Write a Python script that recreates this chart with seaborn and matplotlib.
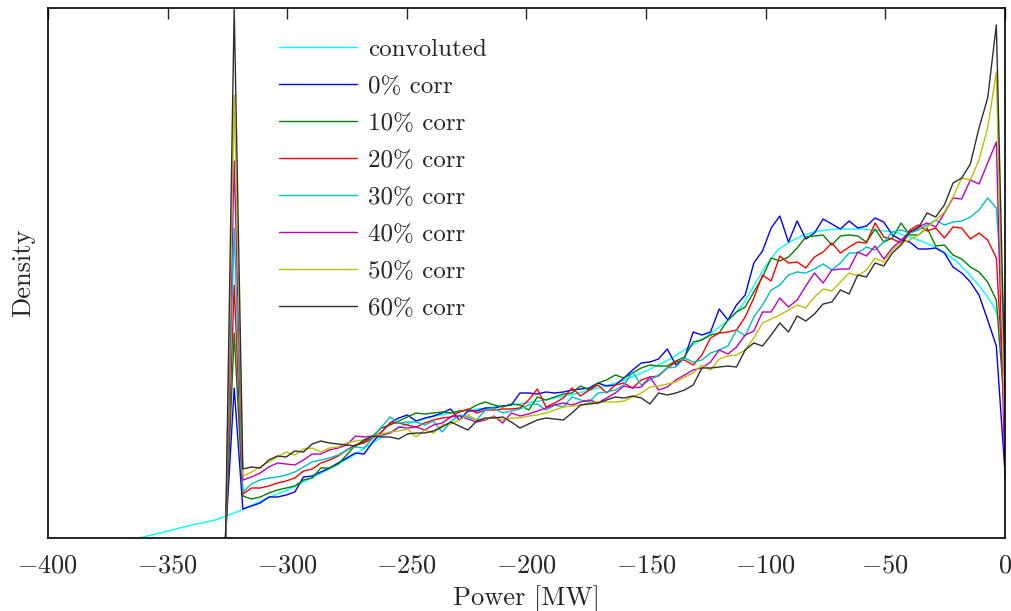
import numpy as np
import pandas as pd
import matplotlib
matplotlib.use("Agg")
import matplotlib.pyplot as plt
import seaborn as sns

# bin centres of the sampled histograms (MW)
power = np.linspace(-325.8, 0, 91)

# densities (arbitrary units)
corr_0 = [0, 150, 29, 32, 35, 41, 41, 43, 46, 61, 62, 66, 70, 75, 80, 85, 84, 96, 106, 115,
          120, 123, 117, 120, 122, 125, 129, 118, 127, 127, 130, 130, 132, 133, 145, 145, 144, 146, 145, 146,
          148, 149, 150, 155, 152, 153, 160, 168, 175, 176, 179, 189, 173, 180, 206,
          203, 206, 229, 218, 233, 243, 275, 287, 310, 322, 296, 317, 299, 305, 319, 314, 309, 317, 310, 312,
          320, 316, 303, 298, 296, 289, 289, 290, 285, 271, 265, 256, 243, 218, 192, 65]
corr_10 = [0, 205, 42, 39, 41, 45, 48, 50, 52, 58, 60, 70, 70, 74, 83, 93, 96, 102, 110, 113,
           117, 121, 125, 124, 125, 126, 125, 127, 128, 133, 136, 133, 131, 134, 133, 128, 141, 138, 141, 144,
           145, 152, 148, 155, 158, 163, 160, 165, 170, 173, 172, 172, 177, 181, 196,
           198, 203, 205, 218, 226, 231, 246, 261, 280, 277, 281, 290, 301, 302, 303, 293, 302, 303, 302, 296,
           309, 296, 300, 315, 303, 303, 310, 292, 293, 283, 279, 271, 266, 256, 238, 125]
corr_20 = [0, 253, 44, 50, 50, 52, 55, 57, 60, 67, 69, 75, 78, 82, 88, 93, 95, 100, 106, 115,
           115, 113, 111, 115, 118, 120, 121, 126, 129, 125, 128, 128, 129, 129, 130, 138, 149, 131, 135, 140,
           150, 142, 148, 153, 145, 153, 155, 150, 158, 161, 162, 170, 176, 178, 173,
           183, 200, 205, 206, 208, 221, 240, 263, 257, 282, 275, 276, 270, 281, 286, 295, 285, 291, 296, 295,
           315, 301, 299, 295, 308, 313, 307, 310, 300, 311, 310, 299, 305, 298, 280, 125]
corr_30 = [0, 310, 46, 54, 58, 60, 61, 63, 66, 71, 76, 78, 80, 83, 88, 91, 90, 100, 111, 121,
           115, 116, 116, 113, 117, 106, 116, 123, 121, 118, 128, 130, 125, 127, 129, 133, 134, 128, 133, 131,
           141, 138, 136, 145, 146, 148, 153, 166, 153, 158, 163, 170, 171, 180, 176,
           178, 185, 188, 192, 208, 202, 221, 233, 248, 253, 263, 266, 265, 269, 274, 268, 275, 285, 285, 291,
           288, 296, 306, 308, 305, 308, 313, 318, 313, 316, 317, 321, 328, 340, 330, 205]
corr_40 = [0, 377, 58, 61, 65, 71, 75, 74, 73, 78, 84, 84, 88, 90, 93, 102, 101, 102, 103, 105,
           111, 110, 111, 108, 113, 115, 121, 122, 119, 116, 118, 122, 115, 125, 122, 124, 127, 130, 133, 135,
           133, 136, 138, 135, 140, 145, 152, 150, 151, 161, 148, 151, 158, 163, 168,
           170, 176, 188, 184, 191, 203, 207, 226, 226, 240, 231, 238, 252, 265, 255, 268, 269, 269, 286, 282,
           292, 279, 290, 298, 306, 311, 315, 311, 325, 340, 339, 358, 354, 375, 396, 60]
corr_50 = [0, 443, 62, 66, 71, 76, 81, 86, 83, 89, 90, 86, 90, 91, 95, 97, 98, 102, 104, 106,
           107, 109, 101, 108, 105, 113, 114, 118, 123, 118, 119, 121, 118, 120, 120, 122, 123, 125, 128, 131,
           132, 133, 135, 136, 136, 136, 137, 141, 145, 151, 152, 154, 156, 161, 165,
           173, 168, 179, 182, 183, 188, 200, 215, 219, 223, 228, 233, 230, 241, 249, 247, 256, 265, 262, 268,
           280, 276, 288, 295, 298, 303, 311, 318, 326, 341, 360, 358, 378, 410, 466, 100]
corr_60 = [0, 530, 69, 71, 70, 78, 82, 81, 87, 86, 94, 97, 95, 94, 93, 92, 98, 102, 101, 101,
           99, 104, 105, 105, 107, 111, 116, 112, 108, 117, 120, 120, 121, 116, 110, 114, 118, 120, 119, 118,
           125, 133, 134, 135, 138, 141, 140, 142, 140, 134, 145, 143, 145, 148, 153,
           170, 170, 171, 172, 171, 188, 195, 192, 203, 215, 206, 222, 217, 224, 234, 236, 248, 244, 263, 261,
           275, 272, 285, 293, 306, 310, 325, 321, 333, 355, 360, 374, 410, 440, 513, 150]

# analytic (convoluted) density
conv_x = [-362, -350, -340, -330, -320, -310, -300, -290, -280, -270, -260, -250, -240, -230,
          -220, -210, -200, -190, -180, -170, -160, -150, -140, -130, -125, -120, -115, -110,
          -105, -100, -95, -90, -85, -80, -75, -70, -65, -60, -55, -50, -45, -40, -35, -30,
          -25, -20, -15, -10, -5, -3, 0]
conv_y = [0, 7, 13, 18, 27, 38, 48, 60, 72, 86, 102, 114, 121, 126,
          129, 132, 135, 139, 144, 150, 157, 167, 179, 194, 201, 210, 219, 232,
          252, 272, 288, 296, 302, 306, 308, 309, 309, 309, 308, 307, 305, 301, 297, 292,
          285, 276, 264, 250, 233, 222, 205]

labels = ["convoluted", "0% corr", "10% corr", "20% corr", "30% corr",
          "40% corr", "50% corr", "60% corr"]
colors = ["cyan", "b", "g", "r", "c", "m", "y", "#303030"]


def main():
    frames = [pd.DataFrame({"power": conv_x, "density": conv_y, "series": labels[0]})]
    for lab, vals in zip(labels[1:], [corr_0, corr_10, corr_20, corr_30, corr_40, corr_50, corr_60]):
        frames.append(pd.DataFrame({"power": power, "density": vals, "series": lab}))
    df = pd.concat(frames, ignore_index=True)

    sns.set_style("white")
    plt.rcParams["font.family"] = "serif"
    plt.rcParams["font.serif"] = ["cmr10", "DejaVu Serif"]
    plt.rcParams["mathtext.fontset"] = "cm"
    plt.rcParams["axes.formatter.use_mathtext"] = True

    fig = plt.figure(figsize=(10.12, 6.11), dpi=100)
    ax = fig.add_axes([48 / 1012, 73 / 611, 957 / 1012, 530 / 611])

    sns.lineplot(data=df, x="power", y="density", hue="series", hue_order=labels,
                 palette=dict(zip(labels, colors)), estimator=None, sort=False,
                 linewidth=1.0, ax=ax)

    ax.set_xlim(-400, 0)
    ax.set_ylim(0, 530)
    ax.set_xticks(np.arange(-400, 1, 50))
    ax.set_yticks([])
    ax.tick_params(axis="x", direction="in", top=True, length=8, width=1,
                   labelsize=19, pad=11)
    for sp in ax.spines.values():
        sp.set_linewidth(1.2)
        sp.set_color("black")
    ax.set_xlabel("Power [MW]", fontsize=19, labelpad=6)
    ax.set_ylabel("Density", fontsize=19, labelpad=9)

    handles, labs = ax.get_legend_handles_labels()
    ax.legend(handles, labs, loc="upper left", bbox_to_anchor=(0.218, 0.985),
              frameon=False, fontsize=18, handlelength=3.1, handletextpad=0.45,
              labelspacing=0.58)

    fig.savefig("out.png", dpi=100)


if __name__ == "__main__":
    main()
